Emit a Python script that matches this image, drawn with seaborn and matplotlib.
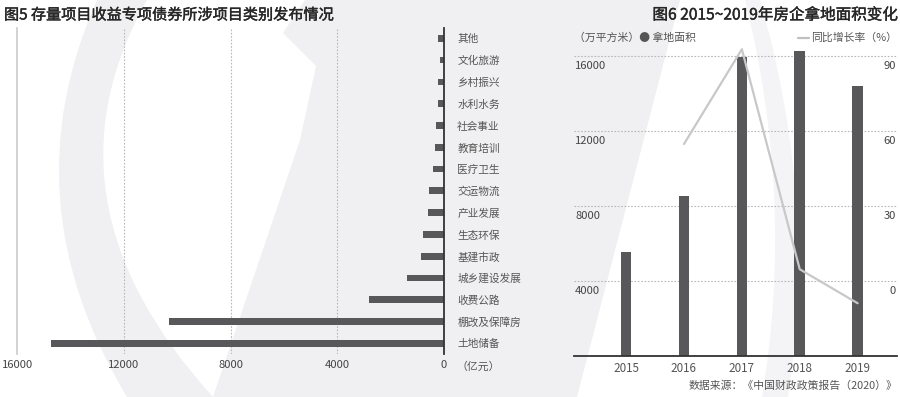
import numpy as np
import pandas as pd
import seaborn as sns
import matplotlib
matplotlib.use("Agg")
from matplotlib import pyplot as plt
from matplotlib import patheffects
from matplotlib.patches import Polygon, PathPatch
from matplotlib.path import Path
from matplotlib.lines import Line2D
from matplotlib.transforms import offset_copy

# Figure 5 data (亿元)
categories = ["其他", "文化旅游", "乡村振兴", "水利水务", "社会事业", "教育培训", "医疗卫生",
              "交运物流", "产业发展", "生态环保", "基建市政", "城乡建设发展", "收费公路",
              "棚改及保障房", "土地储备"]
amounts = [240, 155, 220, 230, 290, 320, 425, 560, 605, 800, 875, 1370, 2830, 10300, 14750]
amount_ticks = [0, 4000, 8000, 12000, 16000]

# Figure 6 data
years = ["2015", "2016", "2017", "2018", "2019"]
land_area = [5565, 8550, 15930, 16290, 14400]  # 万平方米
growth_years = ["2016", "2017", "2018", "2019"]
growth_rate = [54.7, 92.6, 4.6, -9.0]  # %
area_ticks = [4000, 8000, 12000, 16000]
rate_ticks = [0, 30, 60, 90]

sns.set_style("white")
plt.rcParams["font.family"] = ["Noto Sans CJK SC", "DejaVu Sans"]

W, H = 900, 397
BAR = "#58585a"
TXT = "#555555"
fig = plt.figure(figsize=(9, 3.97), dpi=100)


def fpos(x, y):
    return x / W, 1 - y / H


def crescent(a0, ac, a1, b0, bc, b1, color):
    # two quadratic curves joined into a closed band
    verts = [a0, ac, a1, b0, bc, b1, a0]
    codes = [Path.MOVETO, Path.CURVE3, Path.CURVE3, Path.LINETO,
             Path.CURVE3, Path.CURVE3, Path.CLOSEPOLY]
    return PathPatch(Path(verts, codes), facecolor=color, edgecolor="none")


# light watermark shapes in the background
bg = fig.add_axes([0, 0, 1, 1], zorder=-5)
bg.set_xlim(0, W)
bg.set_ylim(H, 0)
bg.axis("off")
shade = "#f0f0f2"
bg.add_patch(crescent((97, 0), (8, 200), (127, 397), (213, 397), (34, 200), (147, 0), shade))
middle = [(283, 33), (305, 0), (680, 0), (577, 397), (213, 397), (300, 140), (316, 66)]
bg.add_patch(Polygon(middle, closed=True, facecolor=shade, edgecolor="none"))
bg.add_patch(crescent((745, 0), (795, 200), (762, 397), (788, 397), (818, 200), (760, 0), "#f4f4f6"))

# ---- Figure 5: horizontal bars growing to the left ----
ax1 = fig.add_axes([17.3 / W, 1 - 354 / H, (444 - 17.3) / W, (354 - 28.3) / H])
ax1.patch.set_alpha(0)
df1 = pd.DataFrame({"category": categories, "amount": amounts})
sns.barplot(data=df1, x="amount", y="category", orient="h", color=BAR, saturation=1,
            width=0.31, linewidth=0, ax=ax1)
ax1.set_xlim(16000, 0)
ax1.set_ylim(len(categories) - 0.51, -0.46)
ax1.yaxis.tick_right()
ax1.tick_params(axis="y", length=0, pad=9.5, labelsize=7.7, labelcolor=TXT)
ax1.set_xticks(amount_ticks)
ax1.set_xticklabels([str(t) for t in amount_ticks])
ax1.tick_params(axis="x", length=0, pad=4, labelsize=8.1, labelcolor="#444444")
ax1.set_xlabel("")
ax1.set_ylabel("")
for v in amount_ticks[1:-1]:
    ax1.axvline(v, color="#b8b8b8", lw=0.8, ls=(0, (1.5, 1.5)), zorder=0)
ax1.spines["top"].set_visible(False)
ax1.spines["bottom"].set_visible(False)
ax1.spines["right"].set_color("#333333")
ax1.spines["right"].set_linewidth(1.3)
ax1.spines["left"].set_color("#cccccc")
ax1.spines["left"].set_linewidth(1.2)

title_fx = [patheffects.withStroke(linewidth=0.3, foreground="#262626")]
fig.text(*fpos(457, 367), "（亿元）", fontsize=7.8, color=TXT, va="center", ha="left")
fig.text(*fpos(4, 15), "图5 存量项目收益专项债券所涉项目类别发布情况", fontsize=10.9,
         color="#262626", va="center", ha="left", path_effects=title_fx)

# ---- Figure 6: bars + growth line ----
ax2 = fig.add_axes([574 / W, 1 - 356 / H, 323 / W, 315 / H])
ax2.patch.set_alpha(0)
df2 = pd.DataFrame({"year": years, "area": land_area})
sns.barplot(data=df2, x="year", y="area", color=BAR, saturation=1, width=0.185,
            linewidth=0, ax=ax2)
ax2.set_xlim(-0.9, 4.68)
ax2.set_ylim(0, 16800)
ax2.set_yticks(area_ticks)
ax2.set_yticklabels([])
ax2.tick_params(axis="y", length=0)
ax2.tick_params(axis="x", length=0, pad=4, labelsize=8.4, labelcolor=TXT)
ax2.set_xlabel("")
ax2.set_ylabel("")
ax2.yaxis.grid(True, color="#b8b8b8", lw=0.8, ls=(0, (1.5, 1.5)))
ax2.set_axisbelow(True)
for s in ("top", "left", "right"):
    ax2.spines[s].set_visible(False)
ax2.spines["bottom"].set_color("#333333")
ax2.spines["bottom"].set_linewidth(1.3)

below = offset_copy(ax2.get_yaxis_transform(), fig=fig, x=1, y=-5, units="dots")
for v in area_ticks:
    ax2.text(0, v, str(v), transform=below, fontsize=8.1, color="#444444", ha="left", va="top")

ax3 = ax2.twinx()
ax3.set_ylim(-30.1, 95.9)
gx = [years.index(y) for y in growth_years]
sns.lineplot(x=gx, y=growth_rate, color="#c8c8c8", lw=1.6, ax=ax3)
ax3.set_yticks([])
ax3.set_ylabel("")
for s in ax3.spines.values():
    s.set_visible(False)
below_r = offset_copy(ax3.get_yaxis_transform(), fig=fig, x=-1, y=-5, units="dots")
for v in rate_ticks:
    ax3.text(1, v, str(v), transform=below_r, fontsize=8.1, color="#444444", ha="right", va="top")

fig.text(*fpos(897, 15), "图6 2015~2019年房企拿地面积变化", fontsize=11.2,
         color="#262626", va="center", ha="right", path_effects=title_fx)
fig.text(*fpos(574, 38), "（万平方米）● 拿地面积", fontsize=7.8, color=TXT, va="center", ha="left")
fig.text(*fpos(897, 38), "同比增长率（%）", fontsize=7.8, color=TXT, va="center", ha="right")
fig.add_artist(Line2D([798 / W, 809 / W], [1 - 38 / H, 1 - 38 / H], color="#c0c0c0", lw=1.6))
fig.text(*fpos(897, 386), "数据来源：《中国财政政策报告（2020）》", fontsize=7.8, color=TXT,
         va="center", ha="right")

fig.savefig("out.png", dpi=100, facecolor="white")
